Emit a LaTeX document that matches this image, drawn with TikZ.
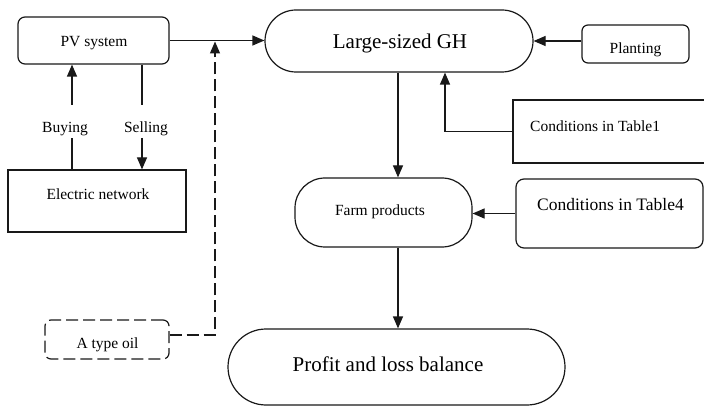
\documentclass[tikz,border=0pt]{standalone}
\usepackage{fontspec}
\setmainfont{Liberation Serif}
\usetikzlibrary{arrows.meta}
\begin{document}
\begin{tikzpicture}[x=1pt,y=-1pt,
  ln/.style={line width=1.2pt,draw=black!90},
  arr/.style={ln,-{Triangle[length=12pt,width=10pt]}},
  bx/.style={ln,inner sep=0pt},
  dsh/.style={dash pattern=on 12pt off 5pt},
  sm/.style={font=\fontsize{15.5}{18}\selectfont,inner sep=0pt},
  md/.style={font=\fontsize{17.5}{20}\selectfont,inner sep=0pt},
  lg/.style={font=\fontsize{21}{24}\selectfont,inner sep=0pt},
]
\useasboundingbox (0,0) rectangle (704,406);
\clip (0,0) rectangle (704,406);
% boxes
\node[bx,rounded corners=7pt,minimum width=151pt,minimum height=47pt] (pv) at (93.5,40.5) {};
\node[sm] (pvt) at (94,43) {PV system};
\node[bx,rounded corners=31pt,minimum width=268pt,minimum height=62pt] (gh) at (399,41) {};
\node[lg] (ght) at (400,43) {Large-sized GH};
\node[bx,rounded corners=6pt,minimum width=107pt,minimum height=38pt] (pl) at (635.5,44) {};
\node[sm] (plt) at (635.5,50) {Planting};
\node[bx,minimum width=199pt,minimum height=63pt] (t1) at (612.5,131.5) {};
\node[sm,anchor=west] (t1t) at (530,126) {Conditions in Table1};
\node[bx,rounded corners=30pt,minimum width=177pt,minimum height=69pt] (fm) at (383.5,212.5) {};
\node[sm] (fmt) at (380,212) {Farm products};
\node[bx,rounded corners=8pt,minimum width=187pt,minimum height=69pt] (t4) at (609.5,213.5) {};
\node[md,anchor=west] (t4t) at (537,205) {Conditions in Table4};
\node[bx,rounded corners=38pt,minimum width=337pt,minimum height=76pt] (pr) at (396.5,367) {};
\node[lg] (prt) at (388,364) {Profit and loss balance};
\node[bx,minimum width=178pt,minimum height=62pt] (en) at (97,201) {};
\node[sm] (ent) at (98,194) {Electric network};
\node[bx,dsh,rounded corners=6pt,minimum width=124pt,minimum height=39pt] (oil) at (107,339.5) {};
\node[sm] (oilt) at (107.5,345) {A type oil};
% labels
\node[sm] (buy) at (65,129) {Buying};
\node[sm] (sel) at (146,129) {Selling};
% helper coordinates
\coordinate (b1) at (72,105);
\coordinate (b2) at (72,138);
\coordinate (s1) at (142,105);
\coordinate (s2) at (142,138);
\coordinate (dj) at (215,335);
\coordinate (tip) at (215,41.5);
\coordinate (ghb) at (445,0);
\coordinate (vx) at (398,0);
% connectors
\draw[arr] (pv.east) -- (pv.east -| gh.west);
\draw[arr,dsh] (oil.east |- dj) -- (dj) -- (tip);
\draw[ln] (en.north -| b2) -- (b2);
\draw[arr] (b1) -- (pv.south -| b1);
\draw[ln] (pv.south -| s1) -- (s1);
\draw[arr] (s2) -- (en.north -| s2);
\draw[arr] (pl.west |- gh.east) -- (gh.east);
\draw[arr] (t1.west) -| (gh.south -| ghb);
\draw[arr] (gh.south -| vx) -- (fm.north -| vx);
\draw[arr] (t4.west) -- (t4.west -| fm.east);
\draw[arr] (fm.south -| vx) -- (pr.north -| vx);
\end{tikzpicture}
\end{document}
